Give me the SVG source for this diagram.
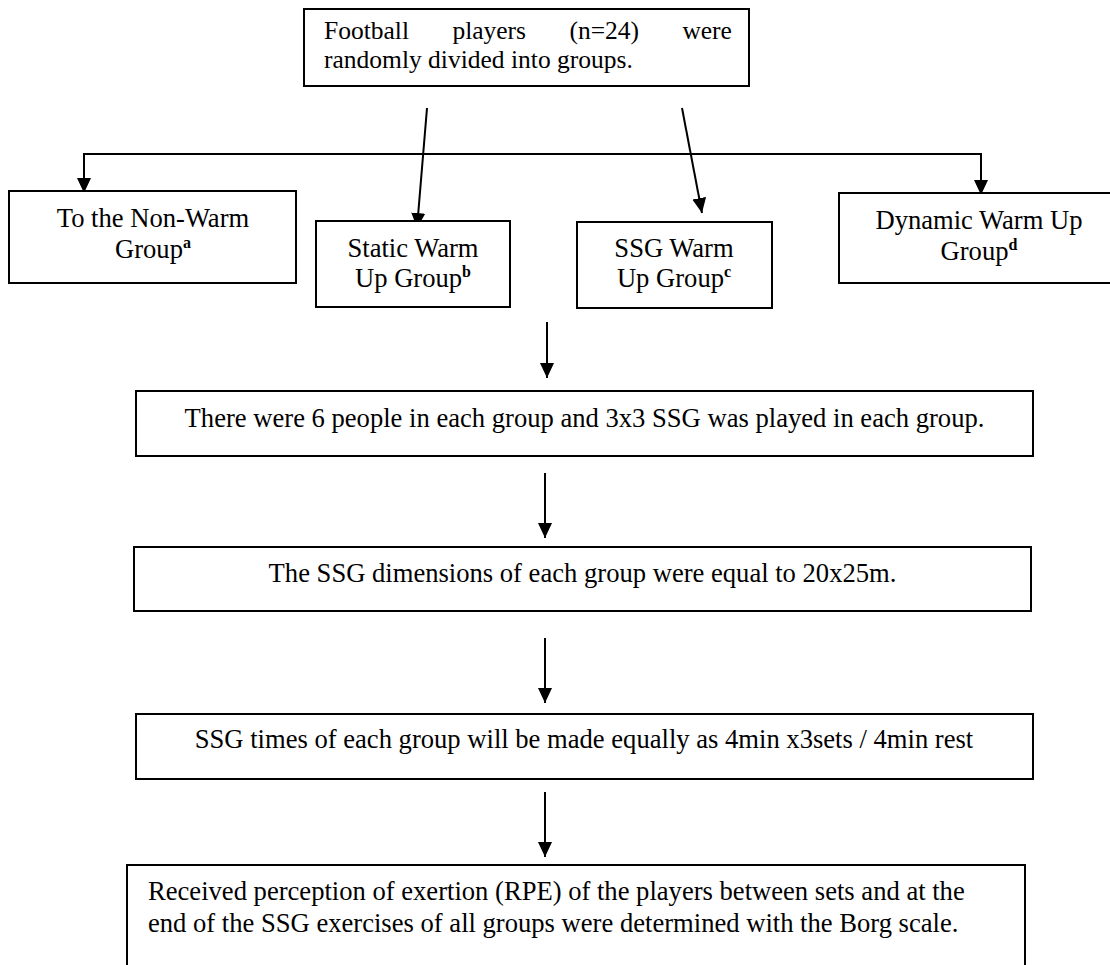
<svg xmlns="http://www.w3.org/2000/svg" width="1110" height="965" viewBox="0 0 1110 965">
  <style>
    .box { fill: #ffffff; stroke: #000000; stroke-width: 2; }
    .t { font-family: 'Liberation Serif', 'Times New Roman', serif; font-size: 26.6px; fill: #000000; }
    .top { font-size: 25.5px; }
    .c { text-anchor: middle; }
    .sup { font-size: 16px; font-weight: bold; }
    .conn { fill: none; stroke: #000000; stroke-width: 2; }
  </style>
  <defs>
    <marker id="ah" markerUnits="userSpaceOnUse" markerWidth="16" markerHeight="16" refX="15" refY="7" orient="auto-start-reverse" viewBox="0 0 16 14">
      <path d="M0,0 L15,7 L0,14 Z" fill="#000000"/>
    </marker>
  </defs>
  <rect width="1110" height="965" fill="#ffffff"/>

  <g id="connectors">
    <path class="conn" d="M84,193 V154 H981 V195" marker-start="url(#ah)" marker-end="url(#ah)"/>
    <line class="conn" x1="427" y1="108" x2="417" y2="228" marker-end="url(#ah)"/>
    <line class="conn" x1="682" y1="108" x2="702" y2="213" marker-end="url(#ah)"/>
    <line class="conn" x1="547" y1="322" x2="547" y2="378" marker-end="url(#ah)"/>
    <line class="conn" x1="545" y1="473" x2="545" y2="538" marker-end="url(#ah)"/>
    <line class="conn" x1="545" y1="638" x2="545" y2="703" marker-end="url(#ah)"/>
    <line class="conn" x1="545" y1="792" x2="545" y2="857" marker-end="url(#ah)"/>
  </g>

  <g id="start">
    <rect class="box" x="304" y="9" width="445" height="77"/>
    <text class="t top" x="324" y="39" word-spacing="37">Football players (n=24) were</text>
    <text class="t top" x="324" y="68">randomly divided into groups.</text>
  </g>

  <g id="nonwarm">
    <rect class="box" x="9" y="191" width="287" height="92"/>
    <text class="t c" x="153" y="227">To the Non-Warm</text>
    <text class="t c" x="153" y="258">Group<tspan class="sup" dy="-10">a</tspan></text>
  </g>

  <g id="static">
    <rect class="box" x="316" y="221" width="194" height="86"/>
    <text class="t c" x="413" y="257">Static Warm</text>
    <text class="t c" x="413" y="287">Up Group<tspan class="sup" dy="-10">b</tspan></text>
  </g>

  <g id="ssg">
    <rect class="box" x="577" y="222" width="195" height="86"/>
    <text class="t c" x="674" y="257">SSG Warm</text>
    <text class="t c" x="674" y="287">Up Group<tspan class="sup" dy="-10">c</tspan></text>
  </g>

  <g id="dynamic">
    <rect class="box" x="839" y="193" width="282" height="90"/>
    <text class="t c" x="979" y="229">Dynamic Warm Up</text>
    <text class="t c" x="979" y="260">Group<tspan class="sup" dy="-10">d</tspan></text>
  </g>

  <g id="people">
    <rect class="box" x="136" y="391" width="897" height="65"/>
    <text class="t c" x="584.5" y="427">There were 6 people in each group and 3x3 SSG was played in each group.</text>
  </g>

  <g id="dimensions">
    <rect class="box" x="134" y="547" width="897" height="64"/>
    <text class="t c" x="582.5" y="582">The SSG dimensions of each group were equal to 20x25m.</text>
  </g>

  <g id="times">
    <rect class="box" x="136" y="714" width="897" height="65"/>
    <text class="t c" x="584" y="748">SSG times of each group will be made equally as 4min x3sets / 4min rest</text>
  </g>

  <g id="rpe">
    <rect class="box" x="127" y="865" width="898" height="110"/>
    <text class="t" x="148" y="900">Received perception of exertion (RPE) of the players between sets and at the</text>
    <text class="t" x="148" y="932">end of the SSG exercises of all groups were determined with the Borg scale.</text>
  </g>
</svg>
